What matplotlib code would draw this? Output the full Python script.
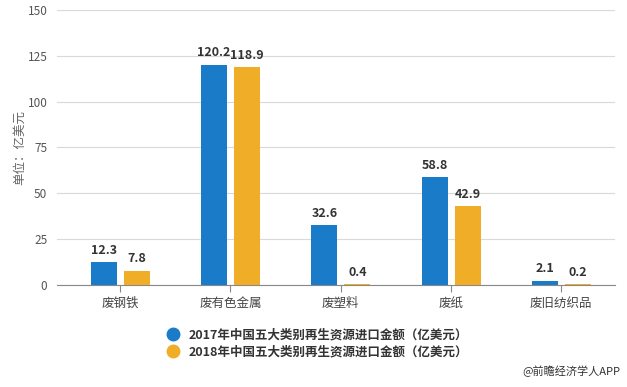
import numpy as np
import matplotlib.pyplot as plt

plt.rcParams['font.family'] = ['Noto Sans CJK SC', 'DejaVu Sans']

categories = ["废钢铁", "废有色金属", "废塑料", "废纸", "废旧纺织品"]
v2017 = [12.3, 120.2, 32.6, 58.8, 2.1]
v2018 = [7.8, 118.9, 0.4, 42.9, 0.2]
labels = ["2017年中国五大类别再生资源进口金额（亿美元）",
          "2018年中国五大类别再生资源进口金额（亿美元）"]
yticks = [0, 25, 50, 75, 100, 125, 150]

blue = "#1a7cc9"
orange = "#f0ad28"

fig = plt.figure(figsize=(6.27, 3.87), dpi=100)
ax = fig.add_axes([0.091, 0.264, 0.89, 0.710])

x = np.arange(len(categories))
w = 0.236
b1 = ax.bar(x - 0.148, v2017, w, color=blue, label=labels[0], zorder=3)
b2 = ax.bar(x + 0.152, v2018, w, color=orange, label=labels[1], zorder=3)

for bars, vals in ((b1, v2017), (b2, v2018)):
    for r, v in zip(bars, vals):
        ax.text(r.get_x() + r.get_width() / 2, v + 3, f"{v}", ha="center", va="bottom",
                fontsize=9, fontweight="bold", color="#333333")

ax.set_xlim(-0.573, 4.49)
ax.set_ylim(0, 150)
ax.set_yticks(yticks)
ax.set_xticks(x)
ax.set_xticklabels(categories)
ax.yaxis.grid(True, color="#d9d9d9", linewidth=0.8, zorder=0)
ax.tick_params(axis="y", length=0, labelsize=8.5, labelcolor="#555555", pad=7)
ax.tick_params(axis="x", length=5, color="#888888", labelsize=9, labelcolor="#444444")
for s in ["top", "right", "left"]:
    ax.spines[s].set_visible(False)
ax.spines["bottom"].set_color("#888888")
ax.set_ylabel("单位：亿美元", fontsize=9, color="#666666")
ax.yaxis.set_label_coords(-0.056, 0.5)

handles = [plt.Line2D([], [], marker="o", linestyle="", markersize=9, color=c) for c in (blue, orange)]
leg = fig.legend(handles, labels, loc="upper left", bbox_to_anchor=(0.2375, 0.18),
                 frameon=False, handletextpad=0.3, labelspacing=0.3,
                 prop={"weight": "bold", "size": 9})
for t in leg.get_texts():
    t.set_color("#333333")

fig.text(0.99, 0.025, "@前瞻经济学人APP", ha="right", va="bottom", fontsize=8, color="#333333")

fig.savefig("out.png", dpi=100)
